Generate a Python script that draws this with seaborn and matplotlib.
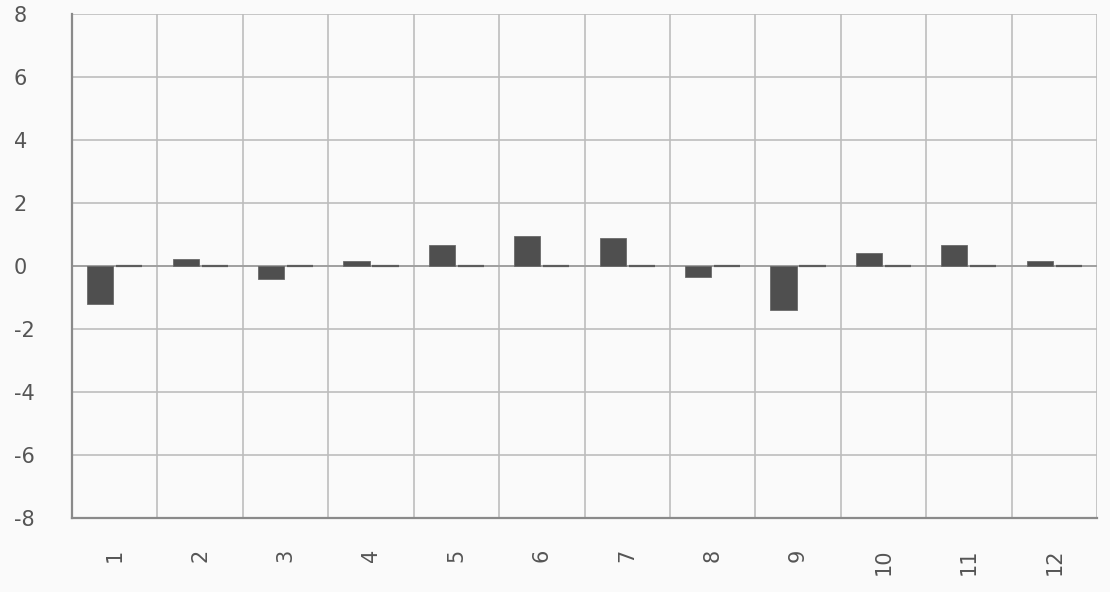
import pandas as pd
import numpy as np
import matplotlib
matplotlib.use("Agg")
import matplotlib.pyplot as plt
import seaborn as sns

months = ["1", "2", "3", "4", "5", "6", "7", "8", "9", "10", "11", "12"]
series_a = [-1.22, 0.22, -0.41, 0.16, 0.67, 0.95, 0.89, -0.35, -1.40, 0.41, 0.67, 0.17]
series_b = [0, 0, 0, 0, 0, 0, 0, 0, 0, 0, 0, 0]
y_ticks = [-8, -6, -4, -2, 0, 2, 4, 6, 8]

df = pd.DataFrame({
    "month": months * 2,
    "value": series_a + series_b,
    "series": ["a"] * 12 + ["b"] * 12,
})

sns.set_style("white")
plt.rcParams["font.family"] = ["DejaVu Sans"]

bg = "#fafafa"
text_c = "#555555"
grid_c = "#bdbdbd"

fig, ax = plt.subplots(figsize=(11.1, 5.92), dpi=100)
fig.patch.set_facecolor(bg)
ax.set_facecolor(bg)

sns.barplot(data=df, x="month", y="value", hue="series", order=months,
            palette=["#4f4f4f", "#5c5c5c"], width=0.68, gap=0.1,
            legend=False, ax=ax, zorder=3)

# zero-valued series shows as a thin line
for p in ax.patches:
    if abs(p.get_height()) < 1e-9:
        p.set_edgecolor("#5c5c5c")
        p.set_linewidth(1.6)
    else:
        p.set_edgecolor("#6a6a6a")
        p.set_linewidth(0.6)

ax.set_ylim(-8, 8)
ax.set_xlim(-0.5, 11.5)
ax.set_yticks(y_ticks)
ax.set_yticklabels([str(t) for t in y_ticks], ha="left")
ax.set_xticks(range(12))
ax.set_xticklabels(months, rotation=90)
ax.set_xticks(np.arange(-0.5, 12, 1), minor=True)

ax.grid(False)
ax.yaxis.grid(True, color=grid_c, linewidth=1.2, zorder=0)
ax.xaxis.grid(True, which="minor", color=grid_c, linewidth=1.2, zorder=0)
ax.axhline(0, color="#9a9a9a", linewidth=1.2, zorder=1)

ax.tick_params(axis="y", length=0, pad=42, labelsize=15, labelcolor=text_c)
ax.tick_params(axis="x", which="major", length=0, pad=22, labelsize=15, labelcolor=text_c)
ax.tick_params(axis="x", which="minor", length=0)

for side in ["top", "right"]:
    ax.spines[side].set_visible(False)
ax.spines["left"].set_color("#8a8a8a")
ax.spines["left"].set_linewidth(1.6)
ax.spines["bottom"].set_color("#8a8a8a")
ax.spines["bottom"].set_linewidth(1.6)

ax.set_xlabel("")
ax.set_ylabel("")

plt.subplots_adjust(left=72 / 1110, right=1097 / 1110, top=1 - 14 / 592, bottom=1 - 518 / 592)
plt.savefig("out.png", dpi=100, facecolor=bg)
